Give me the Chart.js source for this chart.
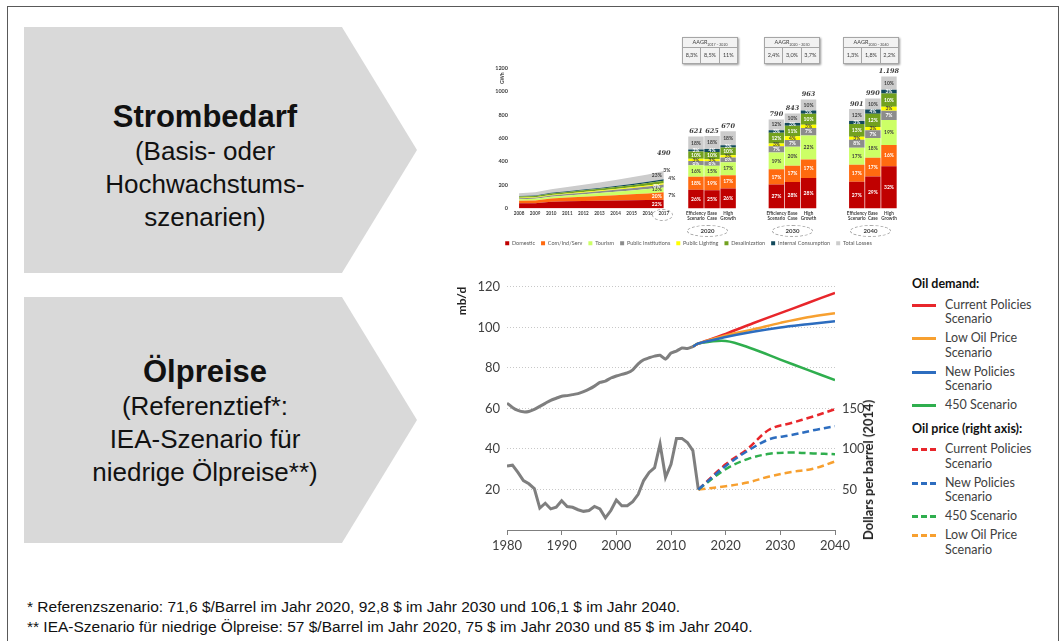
<!DOCTYPE html>
<html>
<head>
<meta charset="utf-8">
<script src="https://cdn.jsdelivr.net/npm/chart.js@4.4.0/dist/chart.umd.min.js"></script>
<style>
body { margin:0; width:1062px; height:641px; background:#fff; position:relative; overflow:hidden; font-family:"Liberation Sans", Arial, sans-serif; }
.frame { position:absolute; left:7px; top:6px; width:1050px; height:800px; border:1px solid #595959; }
.chev { position:absolute; left:24px; width:393px; height:246px; background:#d9d9d9;
        clip-path:polygon(0 0, 80.9% 0, 100% 50%, 80.9% 100%, 0 100%); }
.chev .txt { position:absolute; left:0; width:362px; text-align:center; color:#111; }
.chev .big { font-weight:bold; font-size:31px; line-height:36px; }
.chev .small { font-size:26px; line-height:33px; }
.foot { position:absolute; left:27px; top:597px; font-size:15.5px; line-height:20px; color:#111; }
.aagr { position:absolute; top:37px; width:54px; height:25px; background:#f2f2f2; border:1px solid #a6a6a6;
        box-shadow:1px 1px 2px #999; font-family:Lato, sans-serif; font-size:5.5px; color:#404040; }
.aagr .hd { height:9px; line-height:9px; text-align:center; border-bottom:1px solid #a6a6a6; }
.aagr .hd sub { font-size:3.5px; }
.aagr .row { display:flex; height:15px; line-height:15px; }
.aagr .row div { flex:1; text-align:center; border-right:1px solid #a6a6a6; }
.aagr .row div:last-child { border-right:none; }
.ell { position:absolute; border:1px dashed #a6a6a6; border-radius:50%; font:bold 6px Lato, sans-serif; color:#404040; text-align:center; }
.small-lbl { position:absolute; font:bold 5px Lato, sans-serif; color:#404040; }
#oilLegend { position:absolute; left:912px; top:277px; font-family:Lato, sans-serif; font-size:12.5px; line-height:14.5px; color:#404040; }
#oilLegend .hdr { font-weight:bold; color:#111; margin-bottom:6px; }
#oilLegend .item { position:relative; padding-left:33px; margin-bottom:4.5px; white-space:pre-line; }
#oilLegend .sw { position:absolute; left:0; top:6px; width:24px; height:0; border-top:3px solid; }
#oilLegend .sw.dash { border-top-style:dashed; }
</style>
</head>
<body>
<div class="frame"></div>

<div class="chev" style="top:27px">
  <div class="txt" style="top:72px">
    <div class="big">Strombedarf</div>
    <div class="small">(Basis- oder<br>Hochwachstums-<br>szenarien)</div>
  </div>
</div>
<div class="chev" style="top:297px">
  <div class="txt" style="top:57px">
    <div class="big">Ölpreise</div>
    <div class="small">(Referenztief*:<br>IEA-Szenario für<br>niedrige Ölpreise**)</div>
  </div>
</div>

<canvas id="energyCanvas" width="425" height="196" style="position:absolute;left:480px;top:60px"></canvas>
<div class="aagr" style="left:682px"><div class="hd">AAGR<sub>2017 – 2020</sub></div><div class="row"><div>8,3%</div><div>8,5%</div><div>11%</div></div></div>
<div class="aagr" style="left:764px"><div class="hd">AAGR<sub>2020 – 2030</sub></div><div class="row"><div>2,4%</div><div>3,0%</div><div>3,7%</div></div></div>
<div class="aagr" style="left:843px"><div class="hd">AAGR<sub>2030 – 2040</sub></div><div class="row"><div>1,3%</div><div>1,8%</div><div>2,2%</div></div></div>
<div class="ell" style="left:652px;top:209px;width:19px;height:10px"></div>
<div class="ell" style="left:687px;top:225px;width:39px;height:10px;line-height:10px">2020</div>
<div class="ell" style="left:772px;top:225px;width:39px;height:10px;line-height:10px">2030</div>
<div class="ell" style="left:850px;top:225px;width:39px;height:10px;line-height:10px">2040</div>
<div class="small-lbl" style="left:499px;top:84px;transform:rotate(-90deg);transform-origin:left top">GWh</div>

<canvas id="oilCanvas" width="430" height="290" style="position:absolute;left:455px;top:272px"></canvas>
<div style="position:absolute;left:868px;top:470px;transform:translate(-50%,-50%) rotate(-90deg);white-space:nowrap;font:bold 13px Lato, sans-serif;color:#222">Dollars per barrel (2014)</div>
<div id="oilLegend"></div>

<div class="foot">* Referenzszenario: 71,6 $/Barrel im Jahr 2020, 92,8 $ im Jahr 2030 und 106,1 $ im Jahr 2040.<br>** IEA-Szenario für niedrige Ölpreise: 57 $/Barrel im Jahr 2020, 75 $ im Jahr 2030 und 85 $ im Jahr 2040.</div>

<script>
// ---- electricity demand (GWh) ----
var energyYears = ['2008','2009','2010','2011','2012','2013','2014','2015','2016','2017'];
var forecastYears = ['2020','2030','2040'];
var scenarioNames = [['Efficiency','Scenario'], ['Base','Case'], ['High','Growth']];
var components = ['Domestic','Com/Ind/Serv','Tourism','Public Institutions','Public Lighting','Desalinization','Internal Consumption','Total Losses'];
var componentColors = ['#c00000','#ff6a10','#ccff66','#8c8c8c','#ffff00','#72a11f','#124a5c','#cccccc'];
var lightComponent = [false, false, true, false, true, false, false, true];

var histDomestic = [44, 45, 58, 62, 64, 66, 68, 70, 72, 75];
var histComInd   = [22, 24, 27, 31, 36, 41, 46, 51, 57, 63];
var histTourism  = [13, 14, 16, 19, 22, 25, 29, 33, 37, 42];
var histPubInst  = [8, 9, 10, 11, 13, 15, 17, 19, 22, 25];
var histLighting = [4, 4, 5, 5, 6, 6, 7, 8, 9, 10];
var histDesal    = [11, 11, 12, 13, 14, 15, 16, 18, 20, 22];
var histInternal = [5, 5, 6, 7, 7, 8, 9, 10, 11, 13];
var histLosses   = [23, 27, 31, 35, 40, 45, 51, 57, 63, 70];
var pct2017 = [22, 20, 13, 8, 3, 7, 4, 23];
var label2017 = '490';

// bars: 2020 E/B/H, 2030 E/B/H, 2040 E/B/H
var barTotals = [615, 620, 660, 760, 812, 930, 850, 940, 1128];
var barTotalLabels = ['621','625','670','790','843','963','901','990','1.198'];
var pctDomestic = [26, 25, 26, 27, 28, 28, 27, 29, 32];
var pctComInd   = [18, 19, 17, 17, 17, 17, 17, 17, 16];
var pctTourism  = [16, 15, 17, 19, 20, 22, 17, 18, 19];
var pctPubInst  = [6, 6, 6, 7, 7, 7, 8, 7, 7];
var pctLighting = [3, 3, 3, 3, 4, 3, 3, 3, 3];
var pctDesal    = [10, 10, 10, 12, 11, 10, 13, 12, 10];
var pctInternal = [3, 4, 3, 3, 3, 3, 3, 4, 3];
var pctLosses   = [18, 18, 18, 12, 10, 10, 12, 10, 10];

// ---- oil ----
var demandHistYears = [1980,1981,1982,1983,1984,1985,1986,1987,1988,1989,1990,1991,1992,1993,1994,1995,1996,1997,1998,1999,2000,2001,2002,2003,2004,2005,2006,2007,2008,2009,2010,2011,2012,2013,2014];
var demandHist = [62.6, 60.5, 59, 58.3, 58.5, 59.5, 61, 62.5, 64, 65, 66, 66.3, 66.8, 67.3, 68.3, 69.5, 71, 72.8, 73.5, 75, 76, 76.8, 77.5, 79, 82, 84, 85, 85.8, 86.2, 84.3, 87.3, 88.3, 89.8, 89.6, 90.5];
var demandProjYears = [2014, 2015, 2020, 2025, 2030, 2035, 2040];
var demandCP  = [90.5, 92, 96.8, 102, 107, 112, 117];
var demandLOP = [90.5, 92, 96, 99, 102.2, 105, 107];
var demandNP  = [90.5, 92, 95.2, 97.8, 99.9, 101.5, 103];
var demand450 = [90.5, 92, 93.3, 89.3, 84.1, 79, 74];

var priceHistYears = [1980,1981,1982,1983,1984,1985,1986,1987,1988,1989,1990,1991,1992,1993,1994,1995,1996,1997,1998,1999,2000,2001,2002,2003,2004,2005,2006,2007,2008,2009,2010,2011,2012,2013,2014,2015];
var priceHist = [79, 80, 71, 61, 57, 51, 27, 33, 26, 28, 36, 29, 28, 25, 23, 24, 29, 26, 15, 24, 37, 30, 30, 35, 44, 61, 71, 77, 106, 65, 81, 113, 113, 108, 98, 50];
var priceProjYears = [2015, 2020, 2024, 2028, 2032, 2036, 2040];
var priceCP  = [50, 81, 100, 124, 132, 140, 149];
var priceNP  = [50, 79, 97.5, 112, 117, 123, 128];
var price450 = [50, 75, 87.5, 94, 95.5, 94.5, 93.5];
var priceLOP = [50, 54, 58.6, 66, 71.5, 75.5, 84.5];

var colRed = '#e8262b', colOrange = '#f7a030', colBlue = '#2d6dbf', colGreen = '#2fae4e', colGray = '#7f7f7f';

// ---------- energy chart ----------
var histTable = [histDomestic, histComInd, histTourism, histPubInst, histLighting, histDesal, histInternal, histLosses];
var pctTable = [pctDomestic, pctComInd, pctTourism, pctPubInst, pctLighting, pctDesal, pctInternal, pctLosses];

var categories = [], catBar = [], catYear = [];
energyYears.forEach(function(y, i) { categories.push(y); catBar.push(-1); catYear.push(i); });
var b = 0;
forecastYears.forEach(function(fy, g) {
    var gap = g === 0 ? 1 : 2;
    for (var s = 0; s < gap; s++) { categories.push(''); catBar.push(-1); catYear.push(-1); }
    scenarioNames.forEach(function(sn) { categories.push(sn); catBar.push(b++); catYear.push(-1); });
});

var energyDatasets = [];
components.forEach(function(name, d) {
    energyDatasets.push({
        type: 'bar', label: name, stack: 'bars',
        backgroundColor: componentColors[d], borderWidth: 0,
        barPercentage: 0.96, categoryPercentage: 1,
        data: categories.map(function(c, ci) {
            var k = catBar[ci];
            return k >= 0 ? barTotals[k] * pctTable[d][k] / 100 : null;
        })
    });
});
components.forEach(function(name, d) {
    energyDatasets.push({
        type: 'line', label: name, stack: 'area',
        backgroundColor: componentColors[d], borderColor: componentColors[d], borderWidth: 0,
        pointRadius: 0, fill: d === 0 ? 'origin' : '-1', tension: 0,
        data: categories.map(function(c, ci) {
            var k = catYear[ci];
            return k >= 0 ? histTable[d][k] : null;
        })
    });
});

// small shares that sit outside the area, next to 2017 (3%, 7%, 4%)
var outsideOffsets = [[3, -1], [8, 24], [8, 7]];

var segLabels = {
    id: 'segLabels',
    afterDatasetsDraw: function(chart) {
        var ctx = chart.ctx;
        ctx.save();
        ctx.textAlign = 'center';
        ctx.textBaseline = 'middle';
        ctx.font = 'bold 5px Lato';
        var tops = {};
        for (var d = 0; d < components.length; d++) {
            var meta = chart.getDatasetMeta(d);
            meta.data.forEach(function(el, ci) {
                var k = catBar[ci];
                if (k < 0) return;
                ctx.fillStyle = lightComponent[d] ? '#404040' : '#ffffff';
                ctx.fillText(pctTable[d][k] + '%', el.x, (el.y + el.base) / 2);
                tops[ci] = { x: el.x, y: el.y, k: k };
            });
        }
        ctx.font = 'italic bold 6.5px "DejaVu Serif"';
        ctx.fillStyle = '#404040';
        Object.keys(tops).forEach(function(ci) {
            var t = tops[ci];
            ctx.fillText(barTotalLabels[t.k], t.x, t.y - 5);
        });
        // 2017 shares at the right end of the area
        ctx.font = 'bold 5px Lato';
        var last = energyYears.length - 1;
        var outside = [];
        var el;
        for (var d2 = 0; d2 < components.length; d2++) {
            el = chart.getDatasetMeta(components.length + d2).data[last];
            var lower = d2 === 0 ? chart.scales.y.getPixelForValue(0) : chart.getDatasetMeta(components.length + d2 - 1).data[last].y;
            var mid = (el.y + lower) / 2;
            if (pct2017[d2] >= 8) {
                ctx.fillStyle = lightComponent[d2] ? '#404040' : '#ffffff';
                ctx.fillText(pct2017[d2] + '%', el.x - 7, mid);
            } else {
                outside.push(pct2017[d2]);
            }
        }
        ctx.fillStyle = '#404040';
        outside.forEach(function(p, i) {
            ctx.fillText(p + '%', el.x + outsideOffsets[i][0], el.y + outsideOffsets[i][1]);
        });
        ctx.font = 'italic bold 6.5px "DejaVu Serif"';
        ctx.fillText(label2017, el.x, el.y - 18);
        ctx.restore();
    }
};

new Chart(document.getElementById('energyCanvas'), {
    data: { labels: categories, datasets: energyDatasets },
    options: {
        responsive: false,
        animation: false,
        layout: { padding: { top: 8, right: 8, left: 0, bottom: 0 } },
        plugins: {
            tooltip: { enabled: false },
            legend: {
                position: 'bottom',
                labels: {
                    boxWidth: 4, boxHeight: 4, padding: 6,
                    font: { size: 5.5, family: 'Lato' }, color: '#595959',
                    filter: function(item) { return item.datasetIndex < components.length; }
                }
            }
        },
        scales: {
            x: {
                stacked: true,
                grid: { display: false, drawTicks: false },
                border: { display: false },
                ticks: { autoSkip: false, maxRotation: 0, padding: 2, font: { size: 4.6, weight: 'bold', family: 'Lato' }, color: '#404040' },
                afterFit: function(s) { s.height = 26; }
            },
            y: {
                stacked: true,
                min: 0, max: 1200,
                grid: { display: false, drawTicks: false },
                border: { display: false },
                ticks: {
                    stepSize: 200, padding: 3, font: { size: 5.5, weight: 'bold', family: 'Lato' }, color: '#404040',
                    callback: function(v) { return String(v); }
                },
                afterFit: function(s) { s.width = 31; }
            }
        }
    },
    plugins: [segLabels]
});

// ---------- oil chart ----------
function pts(xs, ys) {
    var out = [];
    for (var i = 0; i < xs.length; i++) out.push({ x: xs[i], y: ys[i] });
    return out;
}
function solid(label, xs, ys, color) {
    return { label: label, data: pts(xs, ys), yAxisID: 'y', borderColor: color, borderWidth: 2.5, pointRadius: 0, tension: 0.35, fill: false };
}
function dashed(label, xs, ys, color) {
    return { label: label, data: pts(xs, ys), yAxisID: 'y1', borderColor: color, borderWidth: 2.5, borderDash: [7, 4], pointRadius: 0, tension: 0.35, fill: false };
}

var oilDatasets = [
    solid('New Policies Scenario', demandProjYears, demandNP, colBlue),
    solid('Low Oil Price Scenario', demandProjYears, demandLOP, colOrange),
    solid('Current Policies Scenario', demandProjYears, demandCP, colRed),
    solid('450 Scenario', demandProjYears, demand450, colGreen),
    dashed('New Policies Scenario', priceProjYears, priceNP, colBlue),
    dashed('450 Scenario', priceProjYears, price450, colGreen),
    dashed('Current Policies Scenario', priceProjYears, priceCP, colRed),
    dashed('Low Oil Price Scenario', priceProjYears, priceLOP, colOrange),
    { label: 'Oil demand', data: pts(demandHistYears, demandHist), yAxisID: 'y', borderColor: colGray, borderWidth: 3, pointRadius: 0, tension: 0.2 },
    { label: 'Oil price', data: pts(priceHistYears, priceHist), yAxisID: 'y1', borderColor: colGray, borderWidth: 3, pointRadius: 0, tension: 0 }
];

new Chart(document.getElementById('oilCanvas'), {
    type: 'line',
    data: { datasets: oilDatasets },
    options: {
        responsive: false,
        animation: false,
        layout: { padding: { top: 12, right: 0, left: 0, bottom: 0 } },
        plugins: { legend: { display: false }, tooltip: { enabled: false } },
        scales: {
            x: {
                type: 'linear', min: 1980, max: 2040,
                ticks: {
                    stepSize: 5, maxRotation: 0, color: '#404040', font: { size: 13, family: 'Lato' }, padding: 3,
                    callback: function(v) { return v % 10 === 0 ? String(v) : ''; }
                },
                grid: { drawOnChartArea: false, tickLength: 5, color: '#7f7f7f' },
                border: { color: '#7f7f7f', width: 1 },
                afterFit: function(s) { s.height = 32; }
            },
            y: {
                min: 0, max: 120,
                ticks: {
                    stepSize: 20, padding: 7, color: '#404040', font: { size: 13, family: 'Lato' },
                    callback: function(v) { return v === 0 ? '' : v; }
                },
                grid: { color: '#c8c8c8', drawTicks: false },
                border: { display: false, dash: [1, 2] },
                title: { display: true, text: 'mb/d', align: 'end', color: '#222', font: { size: 12, weight: 'bold', family: 'Lato' }, padding: 0 },
                afterFit: function(s) { s.width = 52; }
            },
            y1: {
                position: 'right', min: 0, max: 300,
                ticks: {
                    stepSize: 50, padding: 7, color: '#404040', font: { size: 13, family: 'Lato' },
                    callback: function(v) { return (v > 0 && v <= 150) ? v : null; }
                },
                grid: { drawOnChartArea: false, drawTicks: false },
                border: { display: false },
                afterFit: function(s) { s.width = 50; }
            }
        }
    }
});

// ---------- oil legend ----------
var legendGroups = [
    { title: 'Oil demand:', dash: false, items: [['Current Policies\nScenario', colRed], ['Low Oil Price\nScenario', colOrange], ['New Policies\nScenario', colBlue], ['450 Scenario', colGreen]] },
    { title: 'Oil price (right axis):', dash: true, items: [['Current Policies\nScenario', colRed], ['New Policies\nScenario', colBlue], ['450 Scenario', colGreen], ['Low Oil Price\nScenario', colOrange]] }
];
var html = '';
legendGroups.forEach(function(g, gi) {
    html += '<div class="hdr"' + (gi > 0 ? ' style="margin-top:9px"' : '') + '>' + g.title + '</div>';
    g.items.forEach(function(it) {
        html += '<div class="item"><span class="sw' + (g.dash ? ' dash' : '') + '" style="border-color:' + it[1] + '"></span>' + it[0] + '</div>';
    });
});
document.getElementById('oilLegend').innerHTML = html;
</script>
</body>
</html>
